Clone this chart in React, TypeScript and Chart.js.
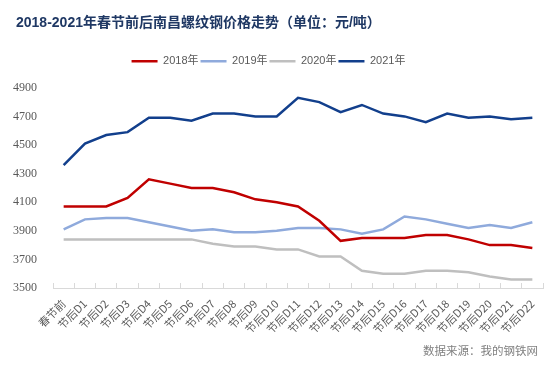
import React, { useEffect, useRef } from "react";
import { Chart, registerables } from "chart.js";

Chart.register(...registerables);

const TITLE = "2018-2021年春节前后南昌螺纹钢价格走势（单位：元/吨）";
const SOURCE = "数据来源：我的钢铁网";

const categories = [
  "春节前", "节后D1", "节后D2", "节后D3", "节后D4", "节后D5", "节后D6", "节后D7",
  "节后D8", "节后D9", "节后D10", "节后D11", "节后D12", "节后D13", "节后D14", "节后D15",
  "节后D16", "节后D17", "节后D18", "节后D19", "节后D20", "节后D21", "节后D22",
];

const seriesNames = ["2018年", "2019年", "2020年", "2021年"];

const values2018 = [
  4070, 4070, 4070, 4130, 4260, 4230, 4200, 4200, 4170, 4120, 4100, 4070,
  3970, 3830, 3850, 3850, 3850, 3870, 3870, 3840, 3800, 3800, 3780,
];
const values2019 = [
  3910, 3980, 3990, 3990, 3960, 3930, 3900, 3910, 3890, 3890, 3900, 3920,
  3920, 3910, 3880, 3910, 4000, 3980, 3950, 3920, 3940, 3920, 3960,
];
const values2020 = [
  3840, 3840, 3840, 3840, 3840, 3840, 3840, 3810, 3790, 3790, 3770, 3770,
  3720, 3720, 3620, 3600, 3600, 3620, 3620, 3610, 3580, 3560, 3560,
];
const values2021 = [
  4360, 4510, 4570, 4590, 4690, 4690, 4670, 4720, 4720, 4700, 4700, 4830,
  4800, 4730, 4780, 4720, 4700, 4660, 4720, 4690, 4700, 4680, 4690,
];

const yMin = 3500;
const yMax = 4900;
const yStep = 200;

const colors = ["#C00000", "#8FAADC", "#BFBFBF", "#123F8C"];

const LEGEND_GAP = 11;
const LEGEND_SHIFT = 3;
const TITLE_INDENT = 16;

const tweaks = {
  id: "tweaks",
  beforeInit(chart: any) {
    const legend = chart.legend;
    if (legend && !legend.__patched) {
      const origFit = legend.fit;
      legend.fit = function () {
        origFit.call(this);
        this.height += LEGEND_GAP;
      };
      legend.__patched = true;
    }
  },
  afterLayout(chart: any) {
    const legend = chart.legend;
    if (legend) {
      legend.left -= LEGEND_SHIFT;
      legend.right -= LEGEND_SHIFT;
    }
    const title = chart.titleBlock;
    if (title) {
      title.left += TITLE_INDENT;
    }
  },
  afterDraw(chart: any) {
    const ctx = chart.ctx;
    ctx.save();
    ctx.font = '11.5px "Liberation Serif", "Noto Sans CJK SC", serif';
    ctx.fillStyle = "#808080";
    ctx.textAlign = "right";
    ctx.textBaseline = "middle";
    ctx.fillText(SOURCE, chart.width - 13, chart.height - 15);
    ctx.restore();
  },
};

export default function App() {
  const canvasRef = useRef<HTMLCanvasElement | null>(null);

  useEffect(() => {
    if (!canvasRef.current) return;
    const all = [values2018, values2019, values2020, values2021];
    const chart = new Chart(canvasRef.current, {
      type: "line",
      data: {
        labels: categories,
        datasets: all.map((vals, i) => ({
          label: seriesNames[i],
          data: vals,
          borderColor: colors[i],
          backgroundColor: colors[i],
          borderWidth: 2.5,
          pointRadius: 0,
          pointHoverRadius: 0,
          pointBorderWidth: 2.5,
          pointBorderColor: colors[i],
          tension: 0,
          fill: false,
        })),
      },
      options: {
        animation: false,
        responsive: true,
        maintainAspectRatio: false,
        layout: { padding: { left: 0, right: 8, top: 15, bottom: 0 } },
        plugins: {
          title: {
            display: true,
            text: TITLE,
            align: "start",
            color: "#1F3864",
            font: { size: 14, weight: "bold", family: '"Liberation Sans", "Noto Sans CJK SC", sans-serif' },
            padding: { top: 0, bottom: 22 },
          },
          legend: {
            display: true,
            position: "top",
            labels: {
              usePointStyle: true,
              pointStyle: "line",
              pointStyleWidth: 26,
              color: "#595959",
              font: { size: 11, family: '"Liberation Sans", "Noto Sans CJK SC", sans-serif' },
              padding: 2,
            },
          },
          tooltip: { enabled: false },
        },
        scales: {
          x: {
            type: "category",
            offset: true,
            grid: {
              display: true,
              drawOnChartArea: false,
              drawTicks: true,
              tickLength: -5,
              color: "#D9D9D9",
              offset: true,
            },
            border: { display: true, color: "#D9D9D9" },
            afterFit(scale: any) {
              scale.height = 79;
              scale.paddingLeft = 0;
              scale.paddingRight = 0;
            },
            ticks: {
              autoSkip: false,
              maxRotation: 45,
              minRotation: 45,
              padding: 14,
              color: "#595959",
              font: { size: 11, family: '"Noto Sans CJK SC", sans-serif' },
            },
          },
          y: {
            min: yMin,
            max: yMax,
            grid: { display: false },
            border: { display: false },
            afterFit(scale: any) {
              scale.width = 53;
            },
            ticks: {
              stepSize: yStep,
              padding: 8,
              color: "#595959",
              font: { size: 12, family: '"Liberation Serif", serif' },
              callback: (v: any) => String(v),
            },
          },
        },
      },
      plugins: [tweaks],
    });
    return () => chart.destroy();
  }, []);

  return (
    <div style={{ position: "fixed", left: 0, top: 0, width: 551, height: 367 }}>
      <canvas ref={canvasRef} />
    </div>
  );
}
